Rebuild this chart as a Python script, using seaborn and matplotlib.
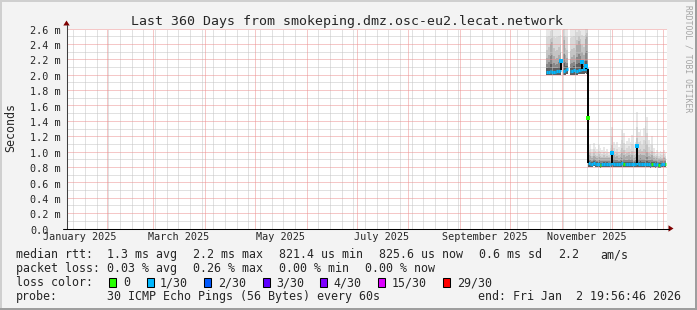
import numpy as np
import pandas as pd
import matplotlib
matplotlib.use("Agg")
import matplotlib.pyplot as plt
import matplotlib.dates as mdates
import matplotlib.transforms as mtrans
from matplotlib.ticker import FixedLocator
from matplotlib.patches import Polygon, Rectangle
from matplotlib.lines import Line2D
import seaborn as sns

W, H = 697, 310
sns.set_style("white")
plt.rcParams["font.family"] = ["DejaVu Sans Mono", "DejaVu Sans"]

# ---------------- data ----------------
title = "Last 360 Days from smokeping.dmz.osc-eu2.lecat.network"
end_time = pd.Timestamp("2026-01-02 19:56:46")
start_time = end_time - pd.Timedelta(days=360)
bin_start = pd.Timestamp("2025-10-22 18:00")   # daily bins
nan = np.nan

# segment 1: 25 daily bins (Oct 22 - Nov 15), values in ms
seg1_med = [2.04, 2.04, 2.05, 2.04, 2.04, 2.04, 2.05, 2.05, 2.06, nan,
            2.05, 2.06, 2.07, nan, 2.05, 2.05, 2.06, 2.05, 2.05, 2.06,
            2.06, 2.07, 2.07, 2.08, 2.07]
seg1_lo = [1.99, 1.99, 2.00, 1.99, 1.99, 1.99, 2.00, 2.00, 2.00, nan,
           2.00, 2.00, 2.01, nan, 2.00, 2.00, 2.00, 2.00, 2.00, 2.01,
           2.01, 2.01, 2.01, 2.02, 2.01]
seg1_dense = [2.22, 2.26, 2.40, 2.42, 2.24, 2.20, 2.22, 2.26, 2.30, nan,
              2.45, 2.25, 2.22, nan, 2.20, 2.23, 2.25, 2.22, 2.38, 2.44,
              2.40, 2.30, 2.26, 2.46, 2.50]
seg1_hi = [2.70, 2.70, 2.70, 2.70, 2.70, 2.70, 2.70, 2.70, 2.70, nan,
           2.70, 2.70, 2.70, nan, 2.70, 2.70, 2.70, 2.70, 2.70, 2.70,
           2.70, 2.70, 2.70, 2.70, 2.70]
seg1_loss = [1] * 25

# segment 2: 47 daily bins (Nov 16 - Jan 1)
seg2_med = [0.85, 0.84, 0.84, 0.85, 0.84, 0.84, 0.84, 0.83, 0.84, 0.84,
            0.84, 0.84, 0.84, 0.84, 0.85, 0.84, 0.84, 0.84, 0.84, 0.84,
            0.85, 0.84, 0.84, 0.84, 0.84, 0.84, 0.84, 0.84, 0.84, 0.85,
            0.84, 0.84, 0.84, 0.84, 0.84, 0.84, 0.84, 0.83, 0.84, 0.84,
            0.83, 0.84, 0.83, 0.83, 0.84, 0.84, 0.84]
seg2_lo = [0.80, 0.80, 0.80, 0.81, 0.80, 0.80, 0.80, 0.79, 0.80, 0.80,
           0.80, 0.80, 0.80, 0.80, 0.80, 0.80, 0.80, 0.80, 0.80, 0.80,
           0.80, 0.80, 0.80, 0.80, 0.80, 0.80, 0.80, 0.80, 0.80, 0.80,
           0.80, 0.80, 0.80, 0.80, 0.80, 0.80, 0.80, 0.79, 0.80, 0.80,
           0.79, 0.80, 0.79, 0.79, 0.80, 0.80, 0.80]
seg2_dense = [0.95, 0.94, 0.92, 0.94, 0.93, 0.92, 0.93, 0.92, 0.91, 0.92,
              0.91, 0.92, 0.91, 0.92, 1.02, 0.95, 0.93, 0.94, 0.92, 0.93,
              0.98, 0.96, 0.93, 0.94, 0.95, 0.93, 0.95, 0.92, 0.93, 1.08,
              0.96, 0.97, 0.95, 0.96, 1.02, 1.00, 0.94, 0.93, 0.95, 0.92,
              0.91, 0.92, 0.90, 0.91, 0.90, 0.91, 0.90]
seg2_hi = [1.08, 1.10, 1.04, 1.11, 1.06, 1.03, 1.08, 1.05, 1.02, 1.06,
           1.01, 1.04, 1.00, 1.05, 1.32, 1.12, 1.08, 1.12, 1.06, 1.10,
           1.28, 1.24, 1.10, 1.14, 1.18, 1.12, 1.22, 1.09, 1.12, 1.52,
           1.25, 1.28, 1.20, 1.30, 1.58, 1.45, 1.15, 1.10, 1.20, 1.05,
           1.00, 1.02, 0.98, 1.01, 0.99, 1.02, 0.98]
seg2_loss = [1, 1, 1, 1, 1, 1, 1, 0, 1, 1,
             1, 1, 1, 1, 1, 1, 1, 1, 1, 1,
             1, 0, 1, 1, 1, 1, 1, 1, 1, 1,
             1, 1, 1, 1, 1, 1, 1, 1, 0, 1,
             1, 1, 0, 1, 1, 1, 0]

spike_bins = [8, 21, 23, 39, 54]
spike_top = [2.18, 2.16, 2.11, 0.98, 1.07]
step_bin = 25
step_dot = 1.44

y_ticks = [0.0, 0.2, 0.4, 0.6, 0.8, 1.0, 1.2, 1.4, 1.6, 1.8, 2.0, 2.2, 2.4, 2.6]
y_minor = [0.1, 0.3, 0.5, 0.7, 0.9, 1.1, 1.3, 1.5, 1.7, 1.9, 2.1, 2.3, 2.5]
y_labels = ["0.0", "0.2 m", "0.4 m", "0.6 m", "0.8 m", "1.0 m", "1.2 m",
            "1.4 m", "1.6 m", "1.8 m", "2.0 m", "2.2 m", "2.4 m", "2.6 m"]
month_labels = ["January 2025", "March 2025", "May 2025", "July 2025",
                "September 2025", "November 2025"]
month_label_at = ["2025-01-16", "2025-03-16", "2025-05-16", "2025-07-16",
                  "2025-09-16", "2025-11-16"]

rtt_items = ["median rtt:", "1.3 ms avg", "2.2 ms max", "821.4 us min",
             "825.6 us now", "0.6 ms sd", "2.2", "am/s"]
rtt_x = [16, 107, 193, 279, 379, 479, 558, 600]
ploss_items = ["packet loss:", "0.03 % avg", "0.26 % max", "0.00 % min", "0.00 % now"]
ploss_x = [16, 107, 193, 279, 365]
lc_labels = ["0", "1/30", "2/30", "3/30", "4/30", "15/30", "29/30"]
lc_colors = ["#26ff00", "#00b8ff", "#0059ff", "#5e00ff", "#7e00ff", "#dd00ff", "#ff0000"]
lc_box_x = [108, 146, 203, 262, 319, 377, 442]
lc_text_x = [123, 160, 218, 276, 333, 392, 457]
probe_items = ["probe:", "30 ICMP Echo Pings (56 Bytes) every 60s",
               "end: Fri Jan  2 19:56:46 2026"]
probe_x = [16, 107, 478]

# ---------------- figure ----------------
fig = plt.figure(figsize=(W / 100, H / 100), dpi=100, facecolor="#f3f3f3")

def fx(px):
    return px / W

def fy(py):
    return 1 - py / H

ax_l, ax_r, ax_t, ax_b = 66.5, 666.5, 28.5, 228.5
ax = fig.add_axes([fx(ax_l), fy(ax_b), (ax_r - ax_l) / W, (ax_b - ax_t) / H])
ax.set_facecolor("white")
for s in ax.spines.values():
    s.set_visible(False)

ax.set_xlim(mdates.date2num(start_time), mdates.date2num(end_time))
ax.set_ylim(0, 2.6)

# ticks
months = mdates.date2num(pd.date_range("2025-02-01", "2026-01-01", freq="MS"))
sundays = mdates.date2num([d for d in pd.date_range("2025-01-12", "2026-01-02", freq="7D")
                           if d.day != 1])
ax.xaxis.set_major_locator(FixedLocator(months))
ax.xaxis.set_minor_locator(FixedLocator(sundays))
ax.yaxis.set_major_locator(FixedLocator(y_ticks))
ax.yaxis.set_minor_locator(FixedLocator(y_minor))
ax.grid(False)
ax.tick_params(which="both", direction="inout", length=2.9, width=0.72,
               labelbottom=False, labelleft=False)
ax.tick_params(which="major", color="#e07070")
ax.tick_params(which="minor", color="#a8a8a8")

# grid: dotted lines drawn over the smoke
dot = (0, (1.0, 1.0))
for v in y_minor:
    ax.axhline(v, color="#c4c4c4", lw=0.72, ls=dot, zorder=3)
for v in sundays:
    ax.axvline(v, color="#c4c4c4", lw=0.72, ls=dot, zorder=3)
for v in y_ticks[1:]:
    ax.axhline(v, color="#ec9090", lw=0.72, ls=dot, zorder=3.1)
for v in months:
    ax.axvline(v, color="#ec9090", lw=0.72, ls=dot, zorder=3.1)

# smoke
med = np.array(seg1_med + seg2_med)
lo = np.array(seg1_lo + seg2_lo)
dense = np.array(seg1_dense + seg2_dense)
hi = np.array(seg1_hi + seg2_hi)
loss = seg1_loss + seg2_loss
times = [bin_start + pd.Timedelta(days=i) for i in range(len(med))]
x = mdates.date2num(times)

tops = [hi,
        dense + (hi - dense) * 0.55,
        dense + (hi - dense) * 0.22,
        dense,
        med + (dense - med) * 0.55,
        med + (dense - med) * 0.25]
shades = ["#e8e8e8", "#d8d8d8", "#c4c4c4", "#aaaaaa", "#878787", "#5e5e5e"]
for top, c in zip(tops, shades):
    ax.bar(x, top - lo, bottom=lo, width=1.0, align="edge", color=c,
           linewidth=0, antialiased=False, zorder=2)

# median line coloured by loss
loss_col = {0: lc_colors[0], 1: lc_colors[1]}
ax.hlines(med, x, x + 1, colors=[loss_col[l] for l in loss], lw=2.3, zorder=4)

# spikes and step
sb = np.array(spike_bins)
ax.vlines(x[sb] + 0.5, med[sb], spike_top, color="black", lw=1.4, zorder=5)
sns.scatterplot(x=x[sb] + 0.5, y=spike_top, color=lc_colors[1], s=9, marker="s",
                linewidth=0, ax=ax, zorder=6, legend=False)
ax.vlines(x[step_bin], med[step_bin], med[step_bin - 1], color="black", lw=1.4, zorder=5)
sns.scatterplot(x=[x[step_bin]], y=[step_dot], color=lc_colors[0], s=6, marker="s",
                linewidth=0, ax=ax, zorder=6, legend=False)
ax.set_xlabel("")
ax.set_ylabel("")

# axis tick labels as text
ytr = mtrans.blended_transform_factory(fig.transFigure, ax.transData)
ytr = mtrans.offset_copy(ytr, fig=fig, x=0, y=-5.2, units="dots")
for v, lab in zip(y_ticks, y_labels):
    fig.text(fx(30), v, lab, transform=ytr, ha="left", va="baseline", fontsize=7.3)
xtr = mtrans.blended_transform_factory(ax.transData, fig.transFigure)
for d, lab in zip(month_label_at, month_labels):
    ax.text(mdates.date2num(pd.Timestamp(d)), fy(240.5), lab, transform=xtr,
            ha="center", va="baseline", fontsize=7.3, clip_on=False)

# axis lines and arrows
fig.add_artist(Line2D([fx(66.5), fx(66.5)], [fy(228.5), fy(25)], color="#404040", lw=0.75))
fig.add_artist(Line2D([fx(63), fx(669)], [fy(228.5), fy(228.5)], color="black", lw=0.75))
fig.add_artist(Polygon([(fx(63.3), fy(25.5)), (fx(69.7), fy(25.5)), (fx(66.5), fy(20.5))],
                       closed=True, color="#7f0000", lw=0))
fig.add_artist(Polygon([(fx(668.5), fy(225.3)), (fx(668.5), fy(231.7)), (fx(673.5), fy(228.5))],
                       closed=True, color="#7f0000", lw=0))

# frame
fig.add_artist(Rectangle((0, 0), 1, fy(308), transform=fig.transFigure, color="#9e9e9e", lw=0))
fig.add_artist(Rectangle((fx(695), 0), fx(2), 1, transform=fig.transFigure, color="#9e9e9e", lw=0))
fig.add_artist(Rectangle((0, fy(2)), fx(695), fy(0) - fy(2), transform=fig.transFigure, color="#cfcfcf", lw=0))
fig.add_artist(Rectangle((0, fy(308)), fx(2), fy(2) - fy(308), transform=fig.transFigure, color="#cfcfcf", lw=0))

# titles
fig.text(fx(347), fy(24.8), title, ha="center", va="baseline", fontsize=9.5)
fig.text(fx(11), fy(127), "Seconds", rotation=90, ha="center", va="center", fontsize=8.4)
fig.text(fx(688), fy(59), "RRDTOOL / TOBI OETIKER", rotation=270, ha="center",
         va="center", fontsize=5.8, color="#a4a4a4")

# legend
for s, px in zip(rtt_items, rtt_x):
    fig.text(fx(px), fy(258.3), s, ha="left", va="baseline", fontsize=8.4)
for s, px in zip(ploss_items, ploss_x):
    fig.text(fx(px), fy(272.3), s, ha="left", va="baseline", fontsize=8.4)
fig.text(fx(16), fy(286.3), "loss color:", ha="left", va="baseline", fontsize=8.4)
for lab, col, bx, tx in zip(lc_labels, lc_colors, lc_box_x, lc_text_x):
    fig.add_artist(Rectangle((fx(bx + 0.5), fy(286.5)), 7 / W, 9 / H, transform=fig.transFigure,
                             facecolor=col, edgecolor="black", lw=0.75))
    fig.text(fx(tx), fy(286.3), lab, ha="left", va="baseline", fontsize=8.4)
for s, px in zip(probe_items, probe_x):
    fig.text(fx(px), fy(300.3), s, ha="left", va="baseline", fontsize=8.4)

fig.savefig("out.png", dpi=100, facecolor=fig.get_facecolor())
